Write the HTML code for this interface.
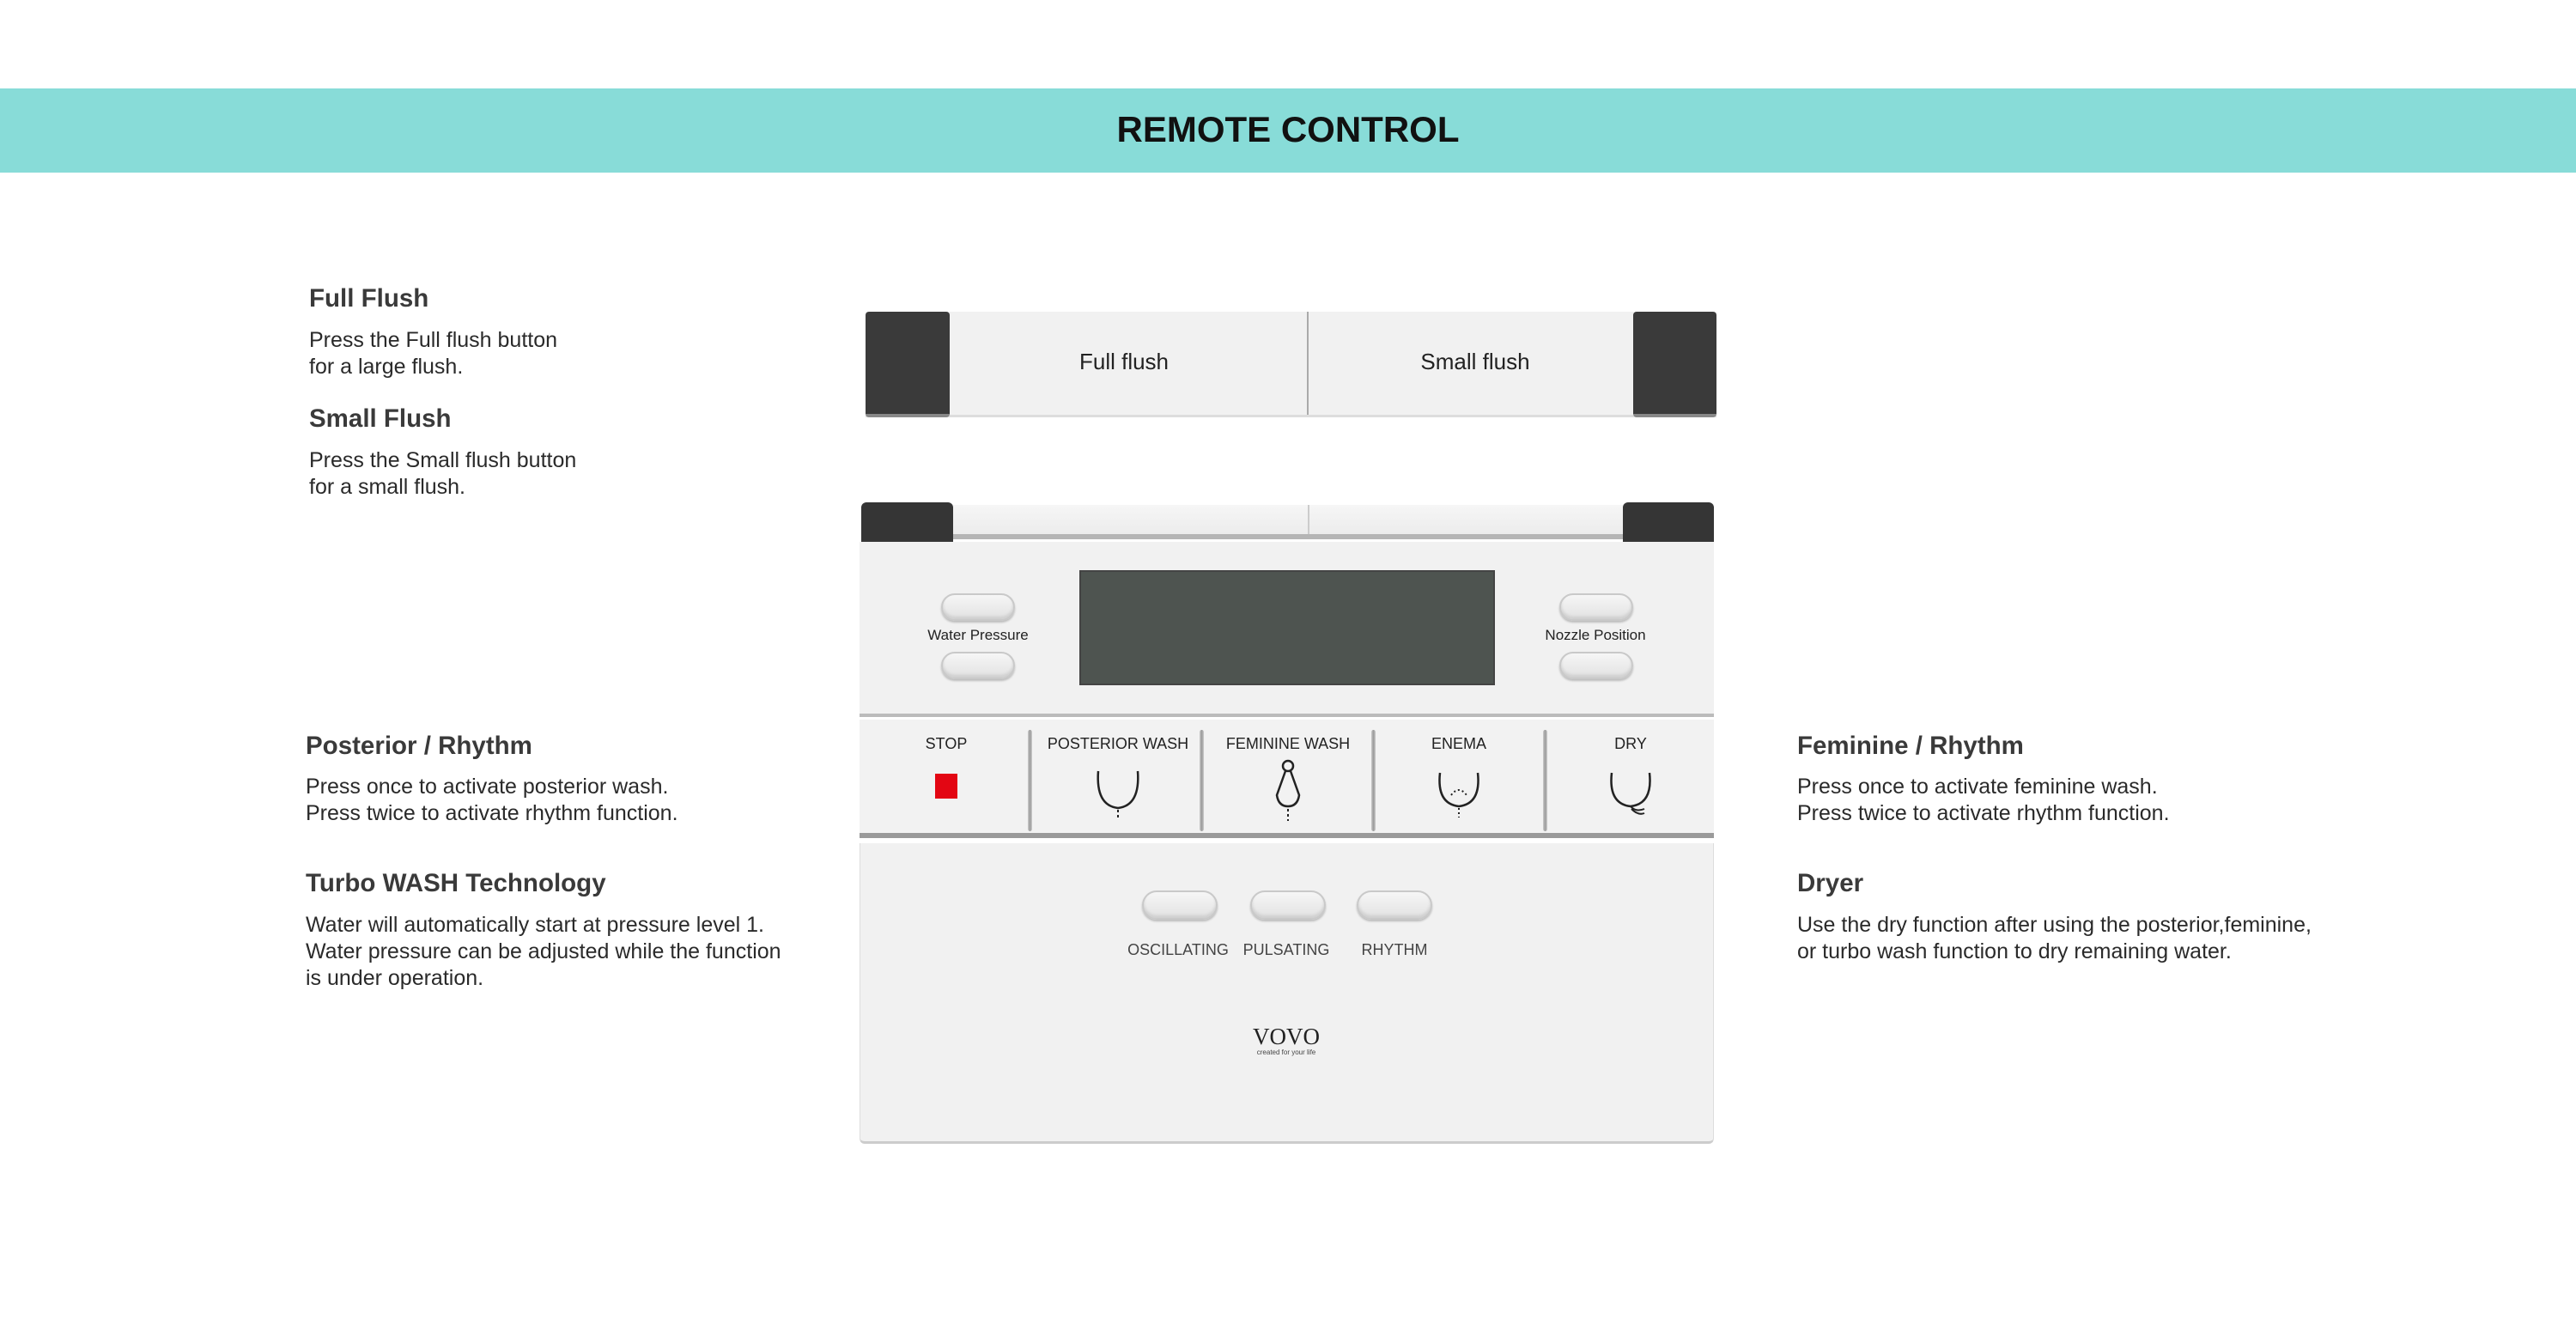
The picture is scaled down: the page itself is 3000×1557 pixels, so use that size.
<!DOCTYPE html>
<html><head><meta charset="utf-8"><style>
*{margin:0;padding:0;box-sizing:border-box}
body{width:3000px;height:1557px;background:#fff;position:relative;overflow:hidden;font-family:"Liberation Sans",sans-serif}
.a{position:absolute}
.h{position:absolute;font-size:29.5px;font-weight:bold;color:#3a3a3a;white-space:nowrap}
.p{position:absolute;font-size:25px;color:#2a2a2a;line-height:31px;white-space:nowrap}
.lbl{position:absolute;font-family:"Liberation Sans Narrow","Liberation Sans",sans-serif;color:#222;white-space:nowrap;transform:translateX(-50%)}
.btn{position:absolute;border-radius:20px;background:linear-gradient(#f6f6f6,#e2e2e2);border:2px solid #c9c9c9;box-shadow:inset 0 -3px 3px #cfcfcf,0 2px 2px #bbb}
.div{position:absolute;width:5px;background:linear-gradient(90deg,#ccc,#999,#ccc);border-radius:3px}
</style></head><body>
<div class="a" style="left:0;top:103px;width:3000px;height:98px;background:#88dcd8"></div>
<div class="a" style="left:0;top:127px;width:3000px;text-align:center;font-size:42px;font-weight:bold;color:#111">REMOTE CONTROL</div>

<div class="h" style="left:360px;top:331px">Full Flush</div>
<div class="p" style="left:360px;top:381px">Press the Full flush button<br>for a large flush.</div>
<div class="h" style="left:360px;top:471px">Small Flush</div>
<div class="p" style="left:360px;top:521px">Press the Small flush button<br>for a small flush.</div>
<div class="h" style="left:356px;top:852px">Posterior / Rhythm</div>
<div class="p" style="left:356px;top:901px">Press once to activate posterior wash.<br>Press twice to activate rhythm function.</div>
<div class="h" style="left:356px;top:1012px">Turbo WASH Technology</div>
<div class="p" style="left:356px;top:1062px">Water will automatically start at pressure level 1.<br>Water pressure can be adjusted while the function<br>is under operation.</div>
<div class="h" style="left:2093px;top:852px">Feminine / Rhythm</div>
<div class="p" style="left:2093px;top:901px">Press once to activate feminine wash.<br>Press twice to activate rhythm function.</div>
<div class="h" style="left:2093px;top:1012px">Dryer</div>
<div class="p" style="left:2093px;top:1062px">Use the dry function after using the posterior,feminine,<br>or turbo wash function to dry remaining water.</div>

<!-- flush bar -->
<div class="a" style="left:1008px;top:363px;width:991px;height:123px;background:#f1f1f1;border-bottom:3px solid #ddd"></div>
<div class="a" style="left:1008px;top:363px;width:98px;height:123px;background:#3a3a3a;border-radius:4px;border-bottom:4px solid #888"></div>
<div class="a" style="left:1902px;top:363px;width:97px;height:123px;background:#3a3a3a;border-radius:4px;border-bottom:4px solid #888"></div>
<div class="a" style="left:1522px;top:363px;width:2px;height:120px;background:#aaa"></div>
<div class="lbl" style="left:1309px;top:406px;font-size:26px">Full flush</div>
<div class="lbl" style="left:1718px;top:406px;font-size:26px">Small flush</div>

<!-- remote top -->
<div class="a" style="left:1108px;top:588px;width:784px;height:40px;background:linear-gradient(#f6f6f6,#ececec);border-bottom:6px solid #b5b5b5"></div>
<div class="a" style="left:1523px;top:588px;width:2px;height:34px;background:#ccc"></div>
<div class="a" style="left:1003px;top:585px;width:107px;height:48px;background:#353535;border-radius:6px 6px 0 0"></div>
<div class="a" style="left:1890px;top:585px;width:106px;height:48px;background:#353535;border-radius:6px 6px 0 0"></div>
<!-- upper panel -->
<div class="a" style="left:1001px;top:631px;width:995px;height:204px;background:#f1f1f1;border-bottom:4px solid #bbb"></div>
<div class="a" style="left:1257px;top:664px;width:484px;height:134px;background:#4e5450;border:2px solid #444"></div>
<div class="btn" style="left:1096px;top:691px;width:86px;height:32px"></div>
<div class="btn" style="left:1096px;top:759px;width:86px;height:32px"></div>
<div class="btn" style="left:1816px;top:691px;width:86px;height:32px"></div>
<div class="btn" style="left:1816px;top:759px;width:86px;height:32px"></div>
<div class="lbl" style="left:1139px;top:730px;font-size:17px">Water Pressure</div>
<div class="lbl" style="left:1858px;top:730px;font-size:17px">Nozzle Position</div>

<!-- button row -->
<div class="a" style="left:1001px;top:838px;width:995px;height:138px;background:#f2f2f2;border-bottom:6px solid #9a9a9a"></div>
<div class="div" style="left:1197px;top:850px;height:118px"></div>
<div class="div" style="left:1397px;top:850px;height:118px"></div>
<div class="div" style="left:1597px;top:850px;height:118px"></div>
<div class="div" style="left:1797px;top:850px;height:118px"></div>
<div class="lbl" style="left:1102px;top:856px;font-size:18px">STOP</div>
<div class="lbl" style="left:1302px;top:856px;font-size:18px">POSTERIOR WASH</div>
<div class="lbl" style="left:1500px;top:856px;font-size:18px">FEMININE WASH</div>
<div class="lbl" style="left:1699px;top:856px;font-size:18px">ENEMA</div>
<div class="lbl" style="left:1899px;top:856px;font-size:18px">DRY</div>
<div class="a" style="left:1089px;top:901px;width:26px;height:29px;background:#e30613"></div>
<svg class="a" style="left:0;top:0" width="3000" height="1557" fill="none" stroke="#222" stroke-width="2.5">
<path d="M1279 898 Q1276 938 1302 941 Q1328 938 1325 898"/>
<path d="M1302 943 V955" stroke-dasharray="3 3" stroke-width="2"/>
<circle cx="1500" cy="892" r="6"/>
<path d="M1497 898 L1487 926 Q1489 939 1500 939 Q1511 939 1513 926 L1503 898"/>
<path d="M1500 942 V956" stroke-dasharray="3 3" stroke-width="2"/>
<path d="M1677 900 Q1673 936 1699 939 Q1725 936 1721 900"/>
<path d="M1690 926 Q1699 914 1708 926" stroke-dasharray="2 3" stroke-width="2"/>
<path d="M1699 941 V952" stroke-dasharray="2 3" stroke-width="2"/>
<path d="M1877 900 Q1873 936 1899 939 Q1925 936 1921 900"/>
<path d="M1899 939 Q1905 946 1915 942 M1900 942 Q1908 950 1915 947" stroke-width="2"/>
</svg>

<!-- bottom panel -->
<div class="a" style="left:1001px;top:982px;width:995px;height:350px;background:#f1f1f1;border-bottom:3px solid #ccc;border-left:1px solid #ddd;border-right:1px solid #ddd;border-radius:0 0 6px 6px"></div>
<div class="btn" style="left:1330px;top:1037px;width:88px;height:34px"></div>
<div class="btn" style="left:1456px;top:1037px;width:88px;height:34px"></div>
<div class="btn" style="left:1580px;top:1037px;width:88px;height:34px"></div>
<div class="lbl" style="left:1372px;top:1096px;font-size:18px;color:#444">OSCILLATING</div>
<div class="lbl" style="left:1498px;top:1096px;font-size:18px;color:#444">PULSATING</div>
<div class="lbl" style="left:1624px;top:1096px;font-size:18px;color:#444">RHYTHM</div>
<div class="lbl" style="left:1498px;top:1192px;font-size:27px;font-family:'Liberation Serif',serif">VOVO</div>
<div class="lbl" style="left:1498px;top:1221px;font-size:8px;color:#444">created for your life</div>
</body></html>
